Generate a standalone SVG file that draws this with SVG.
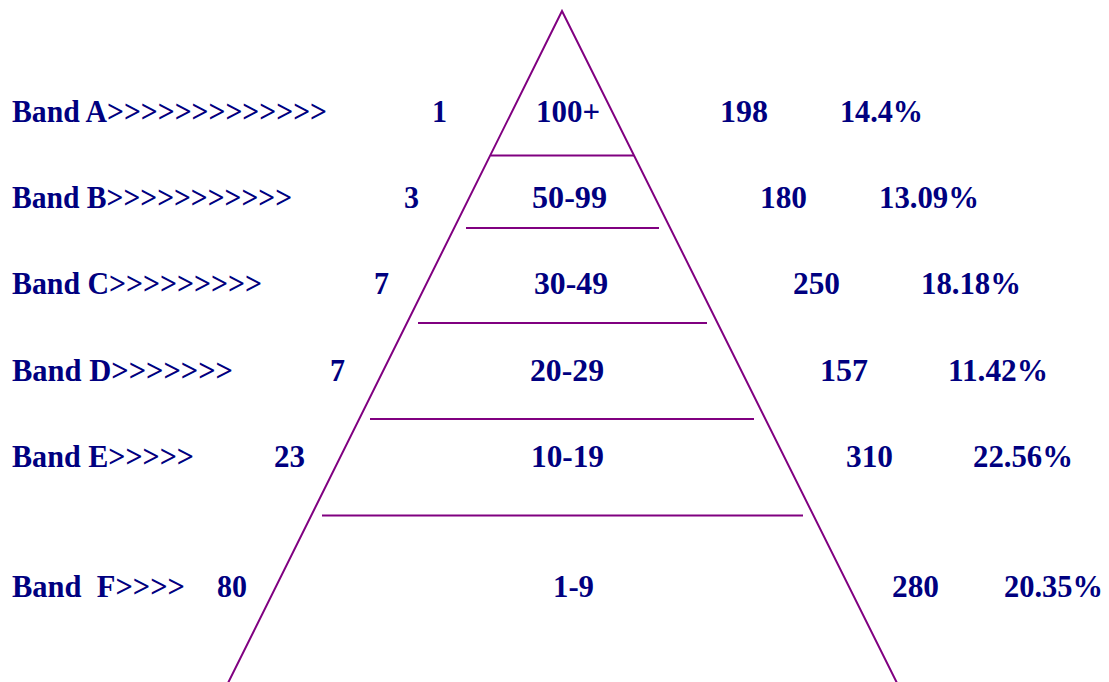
<svg xmlns="http://www.w3.org/2000/svg" width="1109" height="682" viewBox="0 0 1109 682">
<style>
text{font-family:"Liberation Serif","DejaVu Serif",serif;font-weight:bold;font-size:32px;fill:#000080}
.ln{stroke:#800080;stroke-width:2;fill:none}
</style>
<rect width="1109" height="682" fill="#ffffff"/>
<g id="pyramid">
<polyline class="ln" points="228,683 562,11 897,683"/>
</g>
<g id="connectors">
<line class="ln" x1="491" y1="155.5" x2="634" y2="155.5"/>
<line class="ln" x1="466" y1="228" x2="659" y2="228"/>
<line class="ln" x1="418" y1="323" x2="707" y2="323"/>
<line class="ln" x1="370" y1="419" x2="754" y2="419"/>
<line class="ln" x1="322" y1="515.5" x2="803" y2="515.5"/>
</g>
<g id="bandA">
<text x="12" y="122" textLength="315" lengthAdjust="spacingAndGlyphs">Band A&gt;&gt;&gt;&gt;&gt;&gt;&gt;&gt;&gt;&gt;&gt;&gt;&gt;</text>
<text x="432" y="122" textLength="15" lengthAdjust="spacingAndGlyphs">1</text>
<text x="536" y="122" textLength="64" lengthAdjust="spacingAndGlyphs">100+</text>
<text x="720" y="122" textLength="48" lengthAdjust="spacingAndGlyphs">198</text>
<text x="840" y="122" textLength="83" lengthAdjust="spacingAndGlyphs">14.4%</text>
</g>
<g id="bandB">
<text x="12" y="208" textLength="280" lengthAdjust="spacingAndGlyphs">Band B&gt;&gt;&gt;&gt;&gt;&gt;&gt;&gt;&gt;&gt;&gt;</text>
<text x="404" y="208" textLength="15" lengthAdjust="spacingAndGlyphs">3</text>
<text x="532" y="208" textLength="75" lengthAdjust="spacingAndGlyphs">50-99</text>
<text x="760" y="208" textLength="47" lengthAdjust="spacingAndGlyphs">180</text>
<text x="879" y="208" textLength="100" lengthAdjust="spacingAndGlyphs">13.09%</text>
</g>
<g id="bandC">
<text x="12" y="294" textLength="250" lengthAdjust="spacingAndGlyphs">Band C&gt;&gt;&gt;&gt;&gt;&gt;&gt;&gt;&gt;</text>
<text x="374" y="294" textLength="15" lengthAdjust="spacingAndGlyphs">7</text>
<text x="534" y="294" textLength="74" lengthAdjust="spacingAndGlyphs">30-49</text>
<text x="793" y="294" textLength="47" lengthAdjust="spacingAndGlyphs">250</text>
<text x="921" y="294" textLength="100" lengthAdjust="spacingAndGlyphs">18.18%</text>
</g>
<g id="bandD">
<text x="12" y="381" textLength="221" lengthAdjust="spacingAndGlyphs">Band D&gt;&gt;&gt;&gt;&gt;&gt;&gt;</text>
<text x="330" y="381" textLength="15" lengthAdjust="spacingAndGlyphs">7</text>
<text x="530" y="381" textLength="74" lengthAdjust="spacingAndGlyphs">20-29</text>
<text x="820" y="381" textLength="48" lengthAdjust="spacingAndGlyphs">157</text>
<text x="948" y="381" textLength="100" lengthAdjust="spacingAndGlyphs">11.42%</text>
</g>
<g id="bandE">
<text x="12" y="467" textLength="182" lengthAdjust="spacingAndGlyphs">Band E&gt;&gt;&gt;&gt;&gt;</text>
<text x="274" y="467" textLength="31" lengthAdjust="spacingAndGlyphs">23</text>
<text x="531" y="467" textLength="73" lengthAdjust="spacingAndGlyphs">10-19</text>
<text x="846" y="467" textLength="47" lengthAdjust="spacingAndGlyphs">310</text>
<text x="973" y="467" textLength="100" lengthAdjust="spacingAndGlyphs">22.56%</text>
</g>
<g id="bandF">
<text x="12" y="597" xml:space="preserve" textLength="173" lengthAdjust="spacingAndGlyphs">Band  F&gt;&gt;&gt;&gt;</text>
<text x="217" y="597" textLength="30" lengthAdjust="spacingAndGlyphs">80</text>
<text x="553" y="597" textLength="41" lengthAdjust="spacingAndGlyphs">1-9</text>
<text x="892" y="597" textLength="47" lengthAdjust="spacingAndGlyphs">280</text>
<text x="1004" y="597" textLength="99" lengthAdjust="spacingAndGlyphs">20.35%</text>
</g>
</svg>
